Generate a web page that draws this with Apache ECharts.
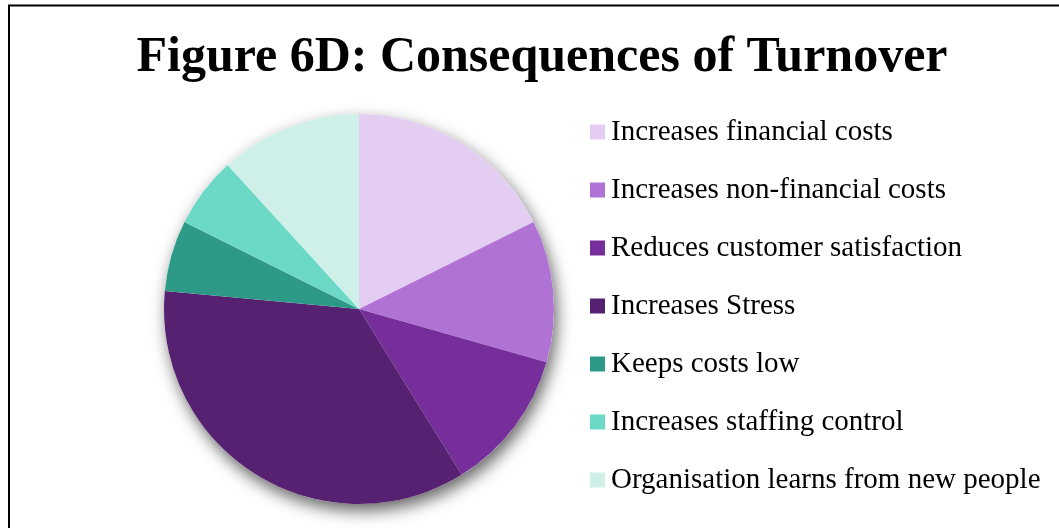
<!DOCTYPE html>
<html>
<head>
<meta charset="utf-8">
<script src="https://cdn.jsdelivr.net/npm/echarts@6/dist/echarts.min.js"></script>
<style>
  html, body { margin: 0; padding: 0; background: #ffffff; }
  #chart { width: 1059px; height: 528px; }
</style>
</head>
<body>
<div id="chart"></div>
<script>
// Responses on the consequences of staff turnover
const categories = [
  'Increases financial costs',
  'Increases non-financial costs',
  'Reduces customer satisfaction',
  'Increases Stress',
  'Keeps costs low',
  'Increases staffing control',
  'Organisation learns from new people'
];
const responses = [6, 4, 4, 12, 2, 2, 4];
const sliceColors = ['#e3cef1', '#b172d6', '#762f9a', '#552170', '#2d9a88', '#6cd8c6', '#cef0e9'];

const serif = '"Liberation Serif", "DejaVu Serif", serif';
const center = [359, 309];
const radius = 195;

const chart = echarts.init(document.getElementById('chart'), null, { renderer: 'canvas' });

chart.setOption({
  animation: false,
  backgroundColor: '#ffffff',
  title: {
    text: 'Figure 6D: Consequences of Turnover',
    left: 537,
    textAlign: 'center',
    top: 28,
    textStyle: { fontFamily: serif, fontWeight: 'bold', fontSize: 50, color: '#000000' }
  },
  legend: {
    orient: 'vertical',
    left: 590,
    top: 115,
    padding: 0,
    icon: 'rect',
    itemWidth: 15,
    itemHeight: 15,
    itemGap: 24,
    selectedMode: false,
    data: categories,
    textStyle: { fontFamily: serif, fontSize: 29, color: '#000000', lineHeight: 34, padding: [0, 0, 0, 1] }
  },
  graphic: [{
    type: 'rect',
    shape: { x: 9, y: 5.5, width: 1200, height: 700 },
    style: { fill: 'none', stroke: '#000000', lineWidth: 2 },
    silent: true,
    z: 100
  }],
  series: [
    {
      // soft drop shadow beneath the whole disc
      type: 'pie',
      silent: true,
      center: center,
      radius: radius,
      label: { show: false },
      labelLine: { show: false },
      z: 1,
      data: [{
        value: 1,
        name: '',
        itemStyle: {
          color: '#ffffff',
          shadowBlur: 16,
          shadowOffsetX: 3,
          shadowOffsetY: 7,
          shadowColor: 'rgba(0,0,0,0.6)'
        }
      }]
    },
    {
      type: 'pie',
      center: center,
      radius: radius,
      startAngle: 90,
      clockwise: true,
      label: { show: false },
      labelLine: { show: false },
      z: 2,
      itemStyle: { borderWidth: 0 },
      data: categories.map((name, i) => ({
        name: name,
        value: responses[i],
        itemStyle: { color: sliceColors[i] }
      }))
    }
  ]
});
</script>
</body>
</html>
